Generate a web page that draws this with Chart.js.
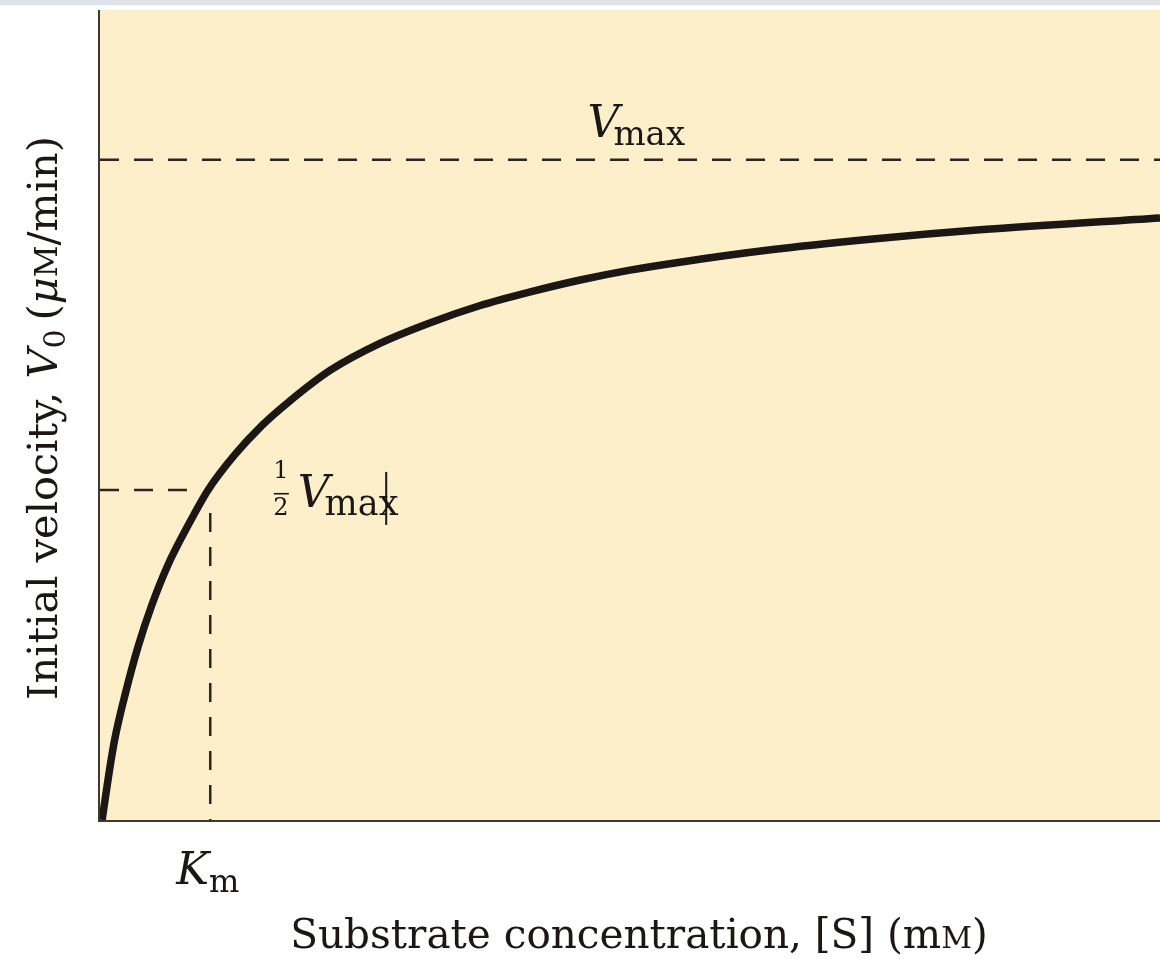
<!DOCTYPE html>
<html>
<head>
<meta charset="utf-8">
<title>Michaelis-Menten curve</title>
<script src="https://cdn.jsdelivr.net/npm/chart.js@4.4.1/dist/chart.umd.min.js"></script>
<style>
  html, body { margin: 0; padding: 0; background: #ffffff; }
  #wrap { width: 1160px; height: 959px; position: relative; }
</style>
</head>
<body>
<div id="wrap"><canvas id="chart" width="1160" height="959"></canvas></div>
<script>
// values (x: arbitrary [S] units, y: % of Vmax)
const substrate = [0.02, 0.09, 0.14, 0.24, 0.36, 0.49, 0.64, 0.83, 1.02, 1.27, 1.53, 1.77, 2.17, 2.64, 3.11, 3.58, 4.06, 4.53, 5.00, 5.47, 6.29, 7.29, 8.30, 10.0];
const velocity = [0, 7.6, 12.3, 19.2, 26.3, 32.6, 38.6, 44.6, 50.0, 55.3, 59.8, 63.2, 68.1, 72.2, 75.3, 77.9, 80.0, 81.8, 83.3, 84.5, 86.3, 88.0, 89.4, 91.2];
const vmax = 100;
const halfVmax = 50;
const km = 1.04;
const xRange = [0, 10];
const yRange = [0, 122.7];

const SERIF = '"DejaVu Serif", "Liberation Serif", serif';
const INK = '#1b1714';
const DASH = '#2e261e';

const curve = substrate.map((s, i) => ({ x: s, y: velocity[i] }));

function dashed(points) {
    return {
        data: points,
        borderColor: DASH,
        borderWidth: 2.5,
        borderDash: [19, 15],
        pointRadius: 0,
        tension: 0,
    };
}

// draws a run of text pieces, each with its own font and baseline shift
function drawRich(ctx, parts, x, y, align) {
    let total = 0;
    parts.forEach(p => {
        ctx.font = p.font;
        total += ctx.measureText(p.t).width + (p.gap || 0);
    });
    let cx = align === 'center' ? x - total / 2 : x;
    parts.forEach(p => {
        ctx.font = p.font;
        ctx.fillText(p.t, cx, y + (p.dy || 0));
        cx += ctx.measureText(p.t).width + (p.gap || 0);
    });
}

const decorations = {
    id: 'decorations',
    beforeDraw(chart) {
        const { ctx, chartArea } = chart;
        ctx.save();
        ctx.fillStyle = '#dde3e8';
        ctx.fillRect(0, 0, chart.width, 5);
        ctx.fillStyle = '#fdefca';
        ctx.fillRect(chartArea.left, chartArea.top, chartArea.right - chartArea.left, chartArea.bottom - chartArea.top);
        ctx.restore();
    },
    afterDraw(chart) {
        const { ctx, chartArea } = chart;
        const xs = chart.scales.x;
        const ys = chart.scales.y;
        ctx.save();

        // axes
        ctx.strokeStyle = '#40372f';
        ctx.lineWidth = 2;
        ctx.beginPath();
        ctx.moveTo(chartArea.left - 1, chartArea.top);
        ctx.lineTo(chartArea.left - 1, chartArea.bottom + 1);
        ctx.lineTo(chartArea.right, chartArea.bottom + 1);
        ctx.stroke();

        ctx.fillStyle = INK;
        ctx.textBaseline = 'alphabetic';

        // Vmax label
        drawRich(ctx, [
            { t: 'V', font: 'italic 44px ' + SERIF, gap: -6 },
            { t: 'max', font: '34px ' + SERIF, dy: 8 },
        ], xs.getPixelForValue(4.6), ys.getPixelForValue(vmax) - 23, 'left');

        // 1/2 Vmax label
        const hx = xs.getPixelForValue(1.64);
        const hy = ys.getPixelForValue(halfVmax) + 17;
        ctx.font = '24px ' + SERIF;
        ctx.textAlign = 'center';
        ctx.fillText('1', hx + 7, hy - 29);
        ctx.fillText('2', hx + 7, hy + 8);
        ctx.fillRect(hx, hy - 14, 15, 1.6);
        ctx.textAlign = 'left';
        drawRich(ctx, [
            { t: 'V', font: 'italic 44px ' + SERIF, gap: -5 },
            { t: 'max', font: '35px ' + SERIF, dy: 8 },
        ], hx + 24, hy, 'left');
        // stray text cursor next to the label
        ctx.fillRect(xs.getPixelForValue(2.7) - 1, hy - 35, 2, 53);

        // Km label
        drawRich(ctx, [
            { t: 'K', font: 'italic 44px ' + SERIF, gap: 0 },
            { t: 'm', font: '32px ' + SERIF, dy: 8 },
        ], xs.getPixelForValue(km) - 34, chartArea.bottom + 64, 'left');

        // x axis title
        drawRich(ctx, [
            { t: 'Substrate concentration, [S] (m', font: '40.5px ' + SERIF },
            { t: 'M', font: '30px ' + SERIF },
            { t: ')', font: '40.5px ' + SERIF },
        ], 639, chartArea.bottom + 128, 'center');

        // y axis title
        ctx.translate(57, 418);
        ctx.rotate(-Math.PI / 2);
        drawRich(ctx, [
            { t: 'Initial velocity, ', font: '41.5px ' + SERIF },
            { t: 'V', font: 'italic 41.5px ' + SERIF },
            { t: '0', font: '30px ' + SERIF, dy: 8, gap: 9 },
            { t: '(', font: '41.5px ' + SERIF },
            { t: 'μ', font: 'italic 41.5px ' + SERIF },
            { t: 'M', font: '31px ' + SERIF },
            { t: '/min)', font: '41.5px ' + SERIF },
        ], 0, 0, 'center');

        ctx.restore();
    },
};

new Chart(document.getElementById('chart').getContext('2d'), {
    type: 'line',
    data: {
        datasets: [
            dashed([{ x: xRange[0], y: vmax }, { x: xRange[1], y: vmax }]),
            dashed([{ x: xRange[0], y: halfVmax }, { x: 0.92, y: halfVmax }]),
            dashed([{ x: km, y: 46.5 }, { x: km, y: 0 }]),
            {
                data: curve,
                borderColor: INK,
                borderWidth: 7.5,
                pointRadius: 0,
                cubicInterpolationMode: 'monotone',
                fill: false,
            },
        ],
    },
    options: {
        responsive: false,
        animation: false,
        events: [],
        layout: { padding: { left: 100, right: 0, top: 10, bottom: 139 } },
        plugins: {
            legend: { display: false },
            tooltip: { enabled: false },
        },
        scales: {
            x: { type: 'linear', display: false, min: xRange[0], max: xRange[1] },
            y: { type: 'linear', display: false, min: yRange[0], max: yRange[1] },
        },
    },
    plugins: [decorations],
});
</script>
</body>
</html>
